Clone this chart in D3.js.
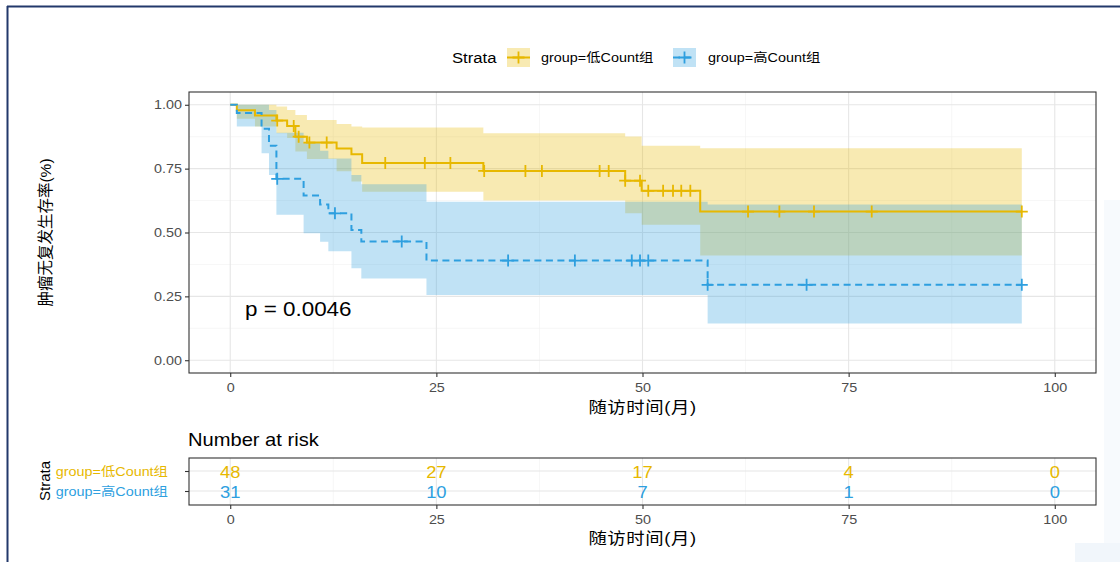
<!DOCTYPE html>
<html><head><meta charset="utf-8">
<script src="https://cdn.jsdelivr.net/npm/d3@7"></script>
<style>
body{margin:0;background:#fff}
svg text{font-family:"Liberation Sans","Noto Sans CJK SC",sans-serif}
</style>
</head><body>
<svg id="c" width="1120" height="562"></svg>
<script>
// ---------------- data ----------------
const strata = ["group=低Count组", "group=高Count组"];
const colors = ["#E7B800", "#2E9FDF"];

// 低Count组 (solid)
const lowTimes = [0, 0.8, 3.0, 5.6, 6.9, 7.9, 9.3, 12.9, 14.7, 16.0, 30.7, 47.9, 49.9, 57.0];
const lowSurv  = [1, 0.979, 0.958, 0.938, 0.917, 0.875, 0.852, 0.829, 0.806, 0.772, 0.741, 0.703, 0.663, 0.582];
const lowLower = [1, 0.945, 0.915, 0.889, 0.870, 0.817, 0.788, 0.740, 0.700, 0.660, 0.625, 0.575, 0.530, 0.410];
const lowUpper = [1, 1, 1, 0.993, 0.980, 0.960, 0.940, 0.925, 0.915, 0.911, 0.889, 0.876, 0.840, 0.830];
const lowCensor = [5.7, 7.7, 8.3, 9.6, 11.7, 18.8, 23.6, 26.7, 30.8, 35.8, 37.8, 44.8, 45.9, 47.9,
                   49.7, 50.7, 52.5, 53.7, 54.7, 55.8, 62.8, 66.6, 70.8, 77.8, 96];
const lowMax = 96;

// 高Count组 (dashed)
const highTimes = [0, 0.8, 3.8, 4.7, 5.6, 8.9, 10.9, 11.9, 14.7, 15.9, 23.8, 57.9];
const highSurv  = [1, 0.968, 0.906, 0.840, 0.710, 0.645, 0.610, 0.575, 0.510, 0.465, 0.390, 0.295];
const highLower = [1, 0.915, 0.810, 0.725, 0.569, 0.497, 0.464, 0.427, 0.360, 0.320, 0.255, 0.144];
const highUpper = [1, 1, 1, 0.980, 0.890, 0.850, 0.820, 0.790, 0.725, 0.689, 0.620, 0.610];
const highCensor = [5.7, 12.7, 20.8, 33.7, 41.8, 48.7, 49.7, 50.7, 57.9, 69.9, 96];
const highMax = 96;

const xTicks = [0, 25, 50, 75, 100];
const xMinor = [12.5, 37.5, 62.5, 87.5];
const yTicks = [0, 0.25, 0.5, 0.75, 1];
const yTickLabels = ["0.00", "0.25", "0.50", "0.75", "1.00"];
const yMinor = [0.125, 0.375, 0.625, 0.875];
const riskTimes = [0, 25, 50, 75, 100];
const riskLow = [48, 27, 17, 4, 0];
const riskHigh = [31, 10, 7, 1, 0];
const pText = "p = 0.0046";
const xTitle = "随访时间(月)";
const yTitle = "肿瘤无复发生存率(%)";
const riskTitle = "Number at risk";
const legendTitle = "Strata";

// ---------------- layout ----------------
const SX = 1.15; // horizontal stretch of text
const svg = d3.select("#c");
const P = {l: 189, r: 1096, t: 92, b: 373};
const R = {t: 458, b: 505};
const x = d3.scaleLinear().domain([-5, 105]).range([P.l, P.r]);
const y = d3.scaleLinear().domain([-0.05, 1.05]).range([P.b, P.t]);
const yr = d3.scalePoint().domain(strata).range([471, 491]);

function stretch(sel){
  sel.each(function(){
    const e = d3.select(this);
    const tx = +e.attr("x") || 0, ty = +e.attr("y") || 0;
    e.attr("x", 0).attr("y", 0).attr("transform", `translate(${tx},${ty}) scale(${SX},1)`);
  });
}
function txt(g, s, tx, ty, size, opts = {}){
  const t = g.append("text").attr("x", tx).attr("y", ty).text(s)
    .attr("font-size", size).attr("fill", opts.fill || "#000")
    .attr("text-anchor", opts.anchor || "start")
    .attr("dominant-baseline", opts.baseline || "central");
  if (opts.ls) t.attr("letter-spacing", opts.ls);
  stretch(t);
  return t;
}

// frame of screenshot
svg.append("rect").attr("x", 1104).attr("y", 200).attr("width", 16).attr("height", 362).attr("fill", "#f7fafd");
svg.append("rect").attr("x", 1075).attr("y", 543).attr("width", 45).attr("height", 19).attr("fill", "#f1f6fb");
svg.append("line").attr("x1", 7).attr("x2", 1120).attr("y1", 6.5).attr("y2", 6.5).attr("stroke", "#22396b").attr("stroke-width", 2);
svg.append("line").attr("x1", 7.5).attr("x2", 7.5).attr("y1", 6).attr("y2", 562).attr("stroke", "#22396b").attr("stroke-width", 2);

// ---------------- main panel ----------------
const main = svg.append("g");
// grid
main.selectAll(".vmin").data(xMinor).join("line").attr("x1", d => x(d)).attr("x2", d => x(d))
  .attr("y1", P.t).attr("y2", P.b).attr("stroke", "#f2f2f2").attr("stroke-width", 0.7);
main.selectAll(".hmin").data(yMinor).join("line").attr("y1", d => y(d)).attr("y2", d => y(d))
  .attr("x1", P.l).attr("x2", P.r).attr("stroke", "#f2f2f2").attr("stroke-width", 0.7);
main.selectAll(".vmaj").data(xTicks).join("line").attr("x1", d => x(d)).attr("x2", d => x(d))
  .attr("y1", P.t).attr("y2", P.b).attr("stroke", "#e6e6e6").attr("stroke-width", 1.1);
main.selectAll(".hmaj").data(yTicks).join("line").attr("y1", d => y(d)).attr("y2", d => y(d))
  .attr("x1", P.l).attr("x2", P.r).attr("stroke", "#e6e6e6").attr("stroke-width", 1.1);

function series(times, surv, lo, hi, maxT){
  const pts = times.map((t, i) => ({t, s: surv[i], lo: lo[i], hi: hi[i]}));
  const last = pts[pts.length - 1];
  pts.push({t: maxT, s: last.s, lo: last.lo, hi: last.hi});
  return pts;
}
const S = [
  {pts: series(lowTimes, lowSurv, lowLower, lowUpper, lowMax), times: lowTimes, surv: lowSurv, censor: lowCensor, color: colors[0], dash: null},
  {pts: series(highTimes, highSurv, highLower, highUpper, highMax), times: highTimes, surv: highSurv, censor: highCensor, color: colors[1], dash: "7,4.5"}
];
const area = d3.area().curve(d3.curveStepAfter).x(d => x(d.t)).y0(d => y(d.lo)).y1(d => y(d.hi));
const line = d3.line().curve(d3.curveStepAfter).x(d => x(d.t)).y(d => y(d.s));
S.forEach(s => {
  main.append("path").attr("d", area(s.pts)).attr("fill", s.color).attr("fill-opacity", 0.3);
});
function survAt(s, t){
  let v = s.surv[0];
  s.times.forEach((tt, i) => { if (tt <= t) v = s.surv[i]; });
  return v;
}
const cross = (cx, cy, g, color) => {
  g.append("path").attr("d", `M${cx-6},${cy}H${cx+6}M${cx},${cy-6}V${cy+6}`)
    .attr("stroke", color).attr("stroke-width", 1.8).attr("fill", "none");
};
S.forEach(s => {
  main.append("path").attr("d", line(s.pts)).attr("fill", "none").attr("stroke", s.color)
    .attr("stroke-width", 2).attr("stroke-dasharray", s.dash);
});
S.forEach(s => {
  s.censor.forEach(t => cross(x(t), y(survAt(s, t)), main, s.color));
});
main.append("rect").attr("x", P.l).attr("y", P.t).attr("width", P.r - P.l).attr("height", P.b - P.t)
  .attr("fill", "none").attr("stroke", "#333").attr("stroke-width", 1.1);

// axes
const ax = main.append("g").attr("transform", `translate(0,${P.b})`)
  .call(d3.axisBottom(x).tickValues(xTicks).tickSize(4).tickPadding(6));
const ay = main.append("g").attr("transform", `translate(${P.l},0)`)
  .call(d3.axisLeft(y).tickValues(yTicks).tickFormat((d, i) => yTickLabels[i]).tickSize(4).tickPadding(3));
[ax, ay].forEach(a => {
  a.select(".domain").remove();
  a.selectAll("line").attr("stroke", "#333").attr("stroke-width", 1.1);
  a.selectAll("text").attr("font-size", 12.5).attr("fill", "#4d4d4d");
  a.attr("font-family", null);
  stretch(a.selectAll("text"));
});

txt(svg, xTitle, (P.l + P.r) / 2, 407, 16, {anchor: "middle", ls: 0.5});
svg.append("text").attr("transform", `translate(45,${(P.t + P.b) / 2}) rotate(-90)`)
  .attr("text-anchor", "middle").attr("dominant-baseline", "central").attr("font-size", 15.5).text(yTitle);
txt(svg, pText, 245, 316, 19.5, {baseline: "alphabetic"});

// legend
const lg = svg.append("g");
txt(lg, legendTitle, 452, 57.5, 14.5);
const keyX = [507, 673], labX = [541, 708];
strata.forEach((st, i) => {
  lg.append("rect").attr("x", keyX[i]).attr("y", 48).attr("width", 23).attr("height", 19)
    .attr("fill", colors[i]).attr("fill-opacity", 0.3);
  lg.append("line").attr("x1", keyX[i]).attr("x2", keyX[i] + 23).attr("y1", 57.5).attr("y2", 57.5)
    .attr("stroke", colors[i]).attr("stroke-width", 2).attr("stroke-dasharray", S[i].dash);
  cross(keyX[i] + 11.5, 57.5, lg, colors[i]);
  txt(lg, st, labX[i], 57.5, 12.5);
});

// ---------------- risk table ----------------
const rt = svg.append("g");
txt(rt, riskTitle, 188, 440, 17.5);
rt.selectAll(".rvmin").data(xMinor).join("line").attr("x1", d => x(d)).attr("x2", d => x(d))
  .attr("y1", R.t).attr("y2", R.b).attr("stroke", "#f2f2f2").attr("stroke-width", 0.7);
rt.selectAll(".rvmaj").data(xTicks).join("line").attr("x1", d => x(d)).attr("x2", d => x(d))
  .attr("y1", R.t).attr("y2", R.b).attr("stroke", "#e6e6e6").attr("stroke-width", 1.1);
rt.selectAll(".rh").data(strata).join("line").attr("y1", d => yr(d)).attr("y2", d => yr(d))
  .attr("x1", P.l).attr("x2", P.r).attr("stroke", "#e6e6e6").attr("stroke-width", 1.1);
[riskLow, riskHigh].forEach((arr, i) => {
  arr.forEach((n, j) => txt(rt, String(n), x(riskTimes[j]), yr(strata[i]) + 1.5, 16, {anchor: "middle", fill: colors[i]}));
});
rt.append("rect").attr("x", P.l).attr("y", R.t).attr("width", P.r - P.l).attr("height", R.b - R.t)
  .attr("fill", "none").attr("stroke", "#333").attr("stroke-width", 1.1);
const rax = rt.append("g").attr("transform", `translate(0,${R.b})`)
  .call(d3.axisBottom(x).tickValues(xTicks).tickSize(4).tickPadding(6));
const ray = rt.append("g").attr("transform", `translate(${P.l},0)`)
  .call(d3.axisLeft(yr).tickSize(4).tickPadding(17));
[rax, ray].forEach(a => {
  a.select(".domain").remove();
  a.selectAll("line").attr("stroke", "#333").attr("stroke-width", 1.1);
  a.selectAll("text").attr("font-size", 12.5).attr("fill", "#4d4d4d");
  a.attr("font-family", null);
});
ray.selectAll("text").attr("fill", (d, i) => colors[i]);
stretch(rax.selectAll("text"));
stretch(ray.selectAll("text"));
txt(svg, xTitle, (P.l + P.r) / 2, 538, 16, {anchor: "middle", ls: 0.5});
svg.append("text").attr("transform", `translate(44,481) rotate(-90)`)
  .attr("text-anchor", "middle").attr("dominant-baseline", "central").attr("font-size", 15).text(legendTitle);
</script>
</body></html>
